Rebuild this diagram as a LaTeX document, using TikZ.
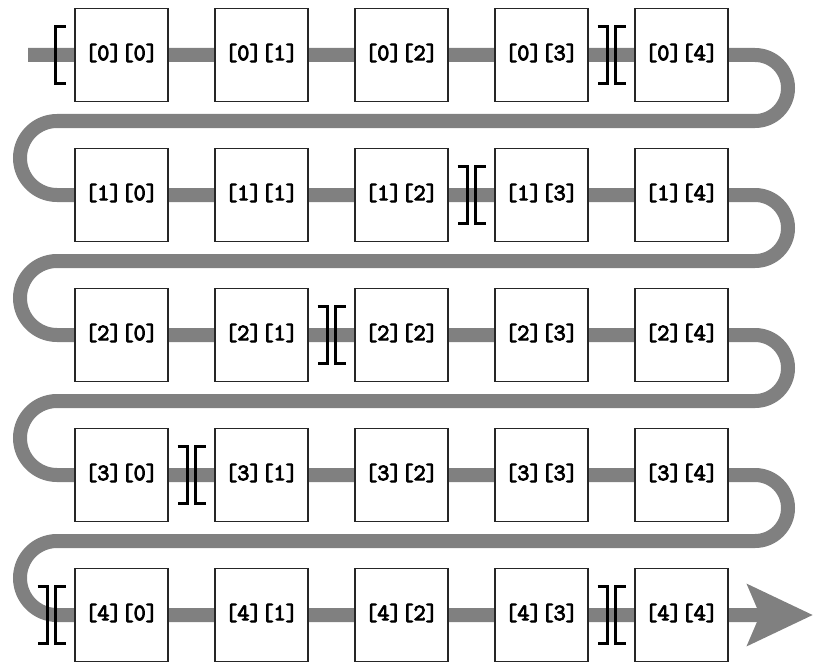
\documentclass[tikz,border=0pt]{standalone}
\usepackage{fontspec}
\newfontfamily\cellfont[FakeBold=4]{Latin Modern Mono}
\usetikzlibrary{arrows.meta,backgrounds}
\definecolor{trackgray}{RGB}{128,128,128}
\tikzset{
  cell/.style={draw=black!85, line width=1.2pt, fill=white,
    minimum width=93pt, minimum height=93pt, inner sep=0pt},
  celltext/.style={inner sep=0pt, font=\cellfont\fontsize{23.5}{26}\selectfont},
  track/.style={draw=trackgray, line width=14pt},
  brk/.style={draw=black, line width=2.7pt, line cap=butt, line join=miter},
}
\newcommand\rbrk[2]{\draw[brk] ({#1-14},{-#2+28.5}) -- ({#1-4},{-#2+28.5}) -- ({#1-4},{-#2-28.5}) -- ({#1-14},{-#2-28.5});}
\newcommand\lbrk[2]{\draw[brk] ({#1+14},{-#2+28.5}) -- ({#1+4},{-#2+28.5}) -- ({#1+4},{-#2-28.5}) -- ({#1+14},{-#2-28.5});}
\begin{document}
\begin{tikzpicture}[x=1pt,y=1pt]
\useasboundingbox (0,0) rectangle (813,-666);
\foreach \r in {0,...,4}{
  \foreach \c in {0,...,4}{
    \node[cell] (b\r\c) at ({121.5+140*\c},{-55-140*\r}) {};
    \node[celltext] (t\r\c) at ([yshift=2pt]b\r\c.center) {[\r][\c]};
  }
}
\begin{scope}[on background layer]
\coordinate (start) at (28,-55);
\coordinate (tip) at (813,-615);
\draw[track, -{Stealth[length=65pt,width=60pt,inset=12pt]}]
  (start) -- (755,-55) arc(90:-90:33) -- (57,-121) arc(90:270:37)
  -- (755,-195) arc(90:-90:33) -- (57,-261) arc(90:270:37)
  -- (755,-335) arc(90:-90:33) -- (57,-401) arc(90:270:37)
  -- (755,-475) arc(90:-90:33) -- (57,-541) arc(90:270:37)
  -- (tip);
\end{scope}
% brackets
\lbrk{51.5}{55}
\rbrk{611.5}{55}\lbrk{611.5}{55}
\rbrk{471.5}{195}\lbrk{471.5}{195}
\rbrk{331.5}{335}\lbrk{331.5}{335}
\rbrk{191.5}{475}\lbrk{191.5}{475}
\rbrk{51.5}{615}\lbrk{51.5}{615}
\rbrk{611.5}{615}\lbrk{611.5}{615}
\end{tikzpicture}
\end{document}
